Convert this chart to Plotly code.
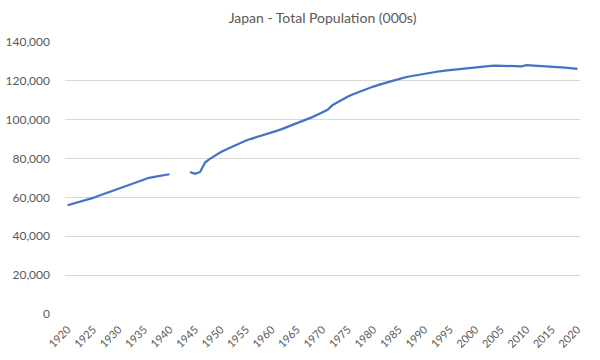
import plotly.graph_objects as go

years = list(range(1920, 2021))
population = [
    55963, 56666, 57390, 58119, 58876, 59737, 60741, 61659, 62595, 63461,
    64450, 65457, 66434, 67432, 68309, 69254, 70114, 70630, 71013, 71380,
    71933, None, None, None, 73064, 72147, 73114, 78101, 80002, 81773,
    83200, 84541, 85808, 86981, 88239, 89276, 90172, 90928, 91767, 92641,
    93419, 94287, 95181, 96156, 97182, 98275, 99036, 100196, 101331, 102536,
    103720, 105145, 107595, 109104, 110573, 111940, 113094, 114165, 115190, 116155,
    117060, 117902, 118728, 119536, 120305, 121049, 121660, 122239, 122745, 123205,
    123611, 124101, 124567, 124938, 125265, 125570, 125859, 126157, 126472, 126667,
    126926, 127316, 127486, 127694, 127787, 127768, 127770, 127771, 127692, 127510,
    128057, 127834, 127593, 127414, 127237, 127095, 127042, 126919, 126749, 126555,
    126146,
]
x_ticks = list(range(1920, 2021, 5))
y_ticks = list(range(0, 140001, 20000))

font_family = "Lato, 'Open Sans', sans-serif"
grey = "#595959"

fig = go.Figure()
fig.add_trace(go.Scatter(
    x=years, y=population, mode="lines",
    line=dict(color="#4472C4", width=2.25),
    connectgaps=False, hoverinfo="x+y", showlegend=False,
))

fig.update_layout(
    width=600, height=360,
    margin=dict(l=65, r=20, t=42, b=46, autoexpand=False),
    paper_bgcolor="white", plot_bgcolor="white",
    title=dict(text="Japan - Total Population (000s)", x=0.5, xanchor="center",
               xref="paper", y=0.95, yanchor="middle",
               font=dict(family=font_family, size=14, color=grey)),
    font=dict(family=font_family, size=12, color=grey),
    xaxis=dict(
        range=[1919.5, 2020.5], tickmode="array", tickvals=x_ticks,
        ticktext=[str(t) for t in x_ticks], tickangle=-45,
        showgrid=False, zeroline=False, showline=False, ticks="",
        ticklabelstandoff=6, automargin=False,
        tickfont=dict(size=11, color=grey),
    ),
    yaxis=dict(
        range=[0, 140000], tickmode="array", tickvals=y_ticks,
        ticktext=[f"{v:,}" for v in y_ticks],
        showgrid=True, gridcolor="#D9D9D9", gridwidth=1,
        zeroline=False, showline=False, ticks="",
        ticklabelstandoff=14, automargin=False,
        tickfont=dict(size=12, color=grey),
    ),
)

fig.write_html(
    "out.html",
    config={"displayModeBar": False},
    post_script="document.body.style.margin='0';document.body.style.overflow='hidden';",
)
